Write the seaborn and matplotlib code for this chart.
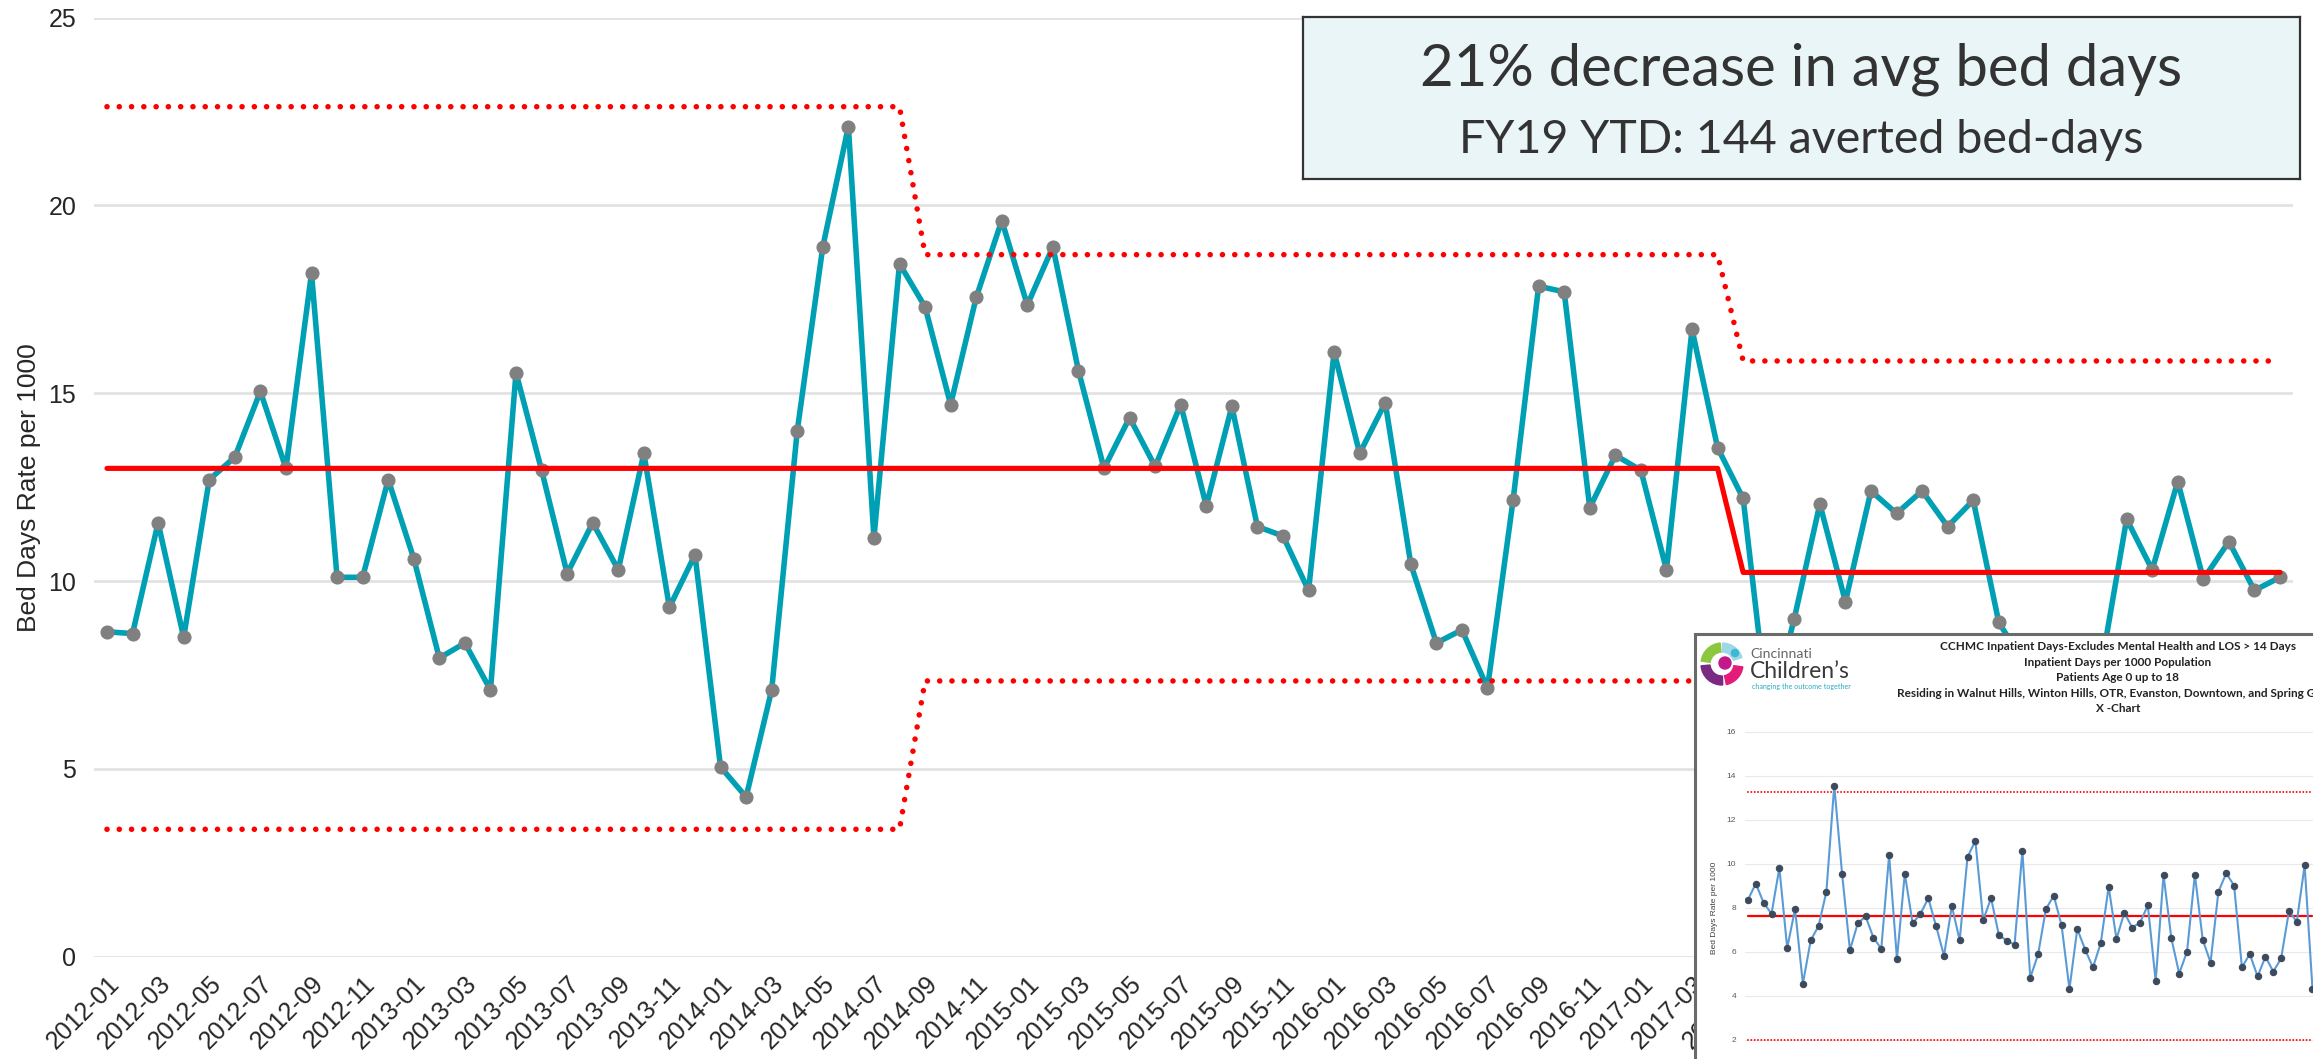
import pandas as pd
import matplotlib
matplotlib.use("Agg")
import matplotlib.pyplot as plt
from matplotlib.patches import Wedge, Circle
from matplotlib.transforms import IdentityTransform, ScaledTranslation
import seaborn as sns

W, H = 2313, 1059

# main X-chart: monthly bed days rate per 1000
months = pd.period_range("2012-01", "2019-02", freq="M").strftime("%Y-%m").tolist()
bed_days = [
    8.65, 8.6, 11.55, 8.5, 12.7, 13.3, 15.05, 13.0, 18.2, 10.1, 10.1, 12.7,
    10.6, 7.95, 8.35, 7.1, 15.55, 12.95, 10.2, 11.55, 10.3, 13.4, 9.3, 10.7,
    5.05, 4.25, 7.1, 14.0, 18.9, 22.1, 11.15, 18.45, 17.3, 14.7, 17.55, 19.6,
    17.35, 18.9, 15.6, 13.0, 14.35, 13.05, 14.7, 12.0, 14.65, 11.45, 11.2, 9.75,
    16.1, 13.4, 14.75, 10.45, 8.35, 8.7, 7.15, 12.15, 17.85, 17.7, 11.95, 13.35,
    12.95, 10.3, 16.7, 13.55, 12.2, 6.3, 9.0, 12.05, 9.45, 12.4, 11.8, 12.4,
    11.45, 12.15, 8.9, 7.8, 6.9, 7.4, 7.7, 11.65, 10.3, 12.65, 10.05, 11.05,
    9.75, 10.1,
]
center_line = [13.0] * 64 + [10.23] * 22
upper_limit = [22.63] * 32 + [18.69] * 32 + [15.86] * 22
lower_limit = [3.39] * 32 + [7.34] * 32 + [4.6] * 22

headline = "21% decrease in avg bed days"
subline = "FY19 YTD: 144 averted bed-days"

# pasted CCHMC chart (inset)
inset_rate = [
    8.38, 9.11, 8.23, 7.74, 9.82, 6.18, 7.95, 4.56, 6.53, 7.18,
    8.74, 13.56, 9.56, 6.09, 7.30, 7.62, 6.65, 6.15, 10.41, 5.68,
    9.56, 7.30, 7.74, 8.44, 7.17, 5.83, 8.09, 6.53, 10.32, 11.05,
    7.45, 8.45, 6.77, 6.52, 6.33, 10.59, 4.83, 5.89, 7.95, 8.56,
    7.21, 4.32, 7.05, 6.11, 5.30, 6.41, 8.97, 6.59, 7.79, 7.11,
    7.33, 8.12, 4.67, 9.50, 6.62, 5.02, 6.02, 9.52, 6.56, 5.52,
    8.74, 9.58, 9.02, 5.30, 5.91, 4.89, 5.79, 5.11, 5.71, 7.85,
    7.38, 9.94, 4.32,
]
inset_center = 7.63
inset_upper = 13.29
inset_lower = 2.0
inset_title = [
    "CCHMC Inpatient Days-Excludes Mental Health and LOS > 14 Days",
    "Inpatient Days per 1000 Population",
    "Patients Age 0 up to 18",
    "Residing in Walnut Hills, Winton Hills, OTR, Evanston, Downtown, and Spring Grove",
    "X -Chart",
]

sns.set_style("white")
plt.rcParams["font.family"] = ["Liberation Sans", "DejaVu Sans"]
narrow = ["Liberation Sans Narrow", "Liberation Sans"]


def rect(x0, y0, x1, y1):
    # pixel box (top-left origin) -> figure fraction
    return [x0 / W, 1 - y1 / H, (x1 - x0) / W, (y1 - y0) / H]


fig = plt.figure(figsize=(W / 100, H / 100), dpi=100)
renderer = fig.canvas.get_renderer()


def fit(txt, target_px):
    # scale font so the text spans target_px
    w = txt.get_window_extent(renderer).width
    txt.set_fontsize(txt.get_fontsize() * target_px / w)
    return txt.get_fontsize()


# ---- main chart
ax = fig.add_axes(rect(94.2, 17.7, 2292.8, 956.6))
df = pd.DataFrame({
    "idx": range(len(months)), "rate": bed_days,
    "cl": center_line, "ucl": upper_limit, "lcl": lower_limit,
})
sns.lineplot(data=df, x="idx", y="rate", ax=ax, color="#00A0B4", linewidth=4,
             marker="o", markersize=9.4, markerfacecolor="#808080",
             markeredgecolor="#808080", zorder=3)
sns.lineplot(data=df, x="idx", y="cl", ax=ax, color="#FF0000", linewidth=3.7, zorder=4)
for col in ["ucl", "lcl"]:
    sns.lineplot(data=df, x="idx", y=col, ax=ax, color="#FF0000", linewidth=4,
                 linestyle=(0, (0.01, 2.2)), dash_capstyle="round", zorder=4)

ax.set_xlim(-0.5, len(months) - 0.5)
ax.set_ylim(0, 25)
ax.set_yticks([0, 5, 10, 15, 20, 25])
ax.set_xticks(range(0, len(months), 2))
ax.set_xticklabels(months[::2], rotation=45, ha="right", va="top",
                   rotation_mode="anchor", fontsize=18, family=narrow)
ax.set_yticklabels([0, 5, 10, 15, 20, 25], fontsize=18, family=narrow)
shift = ScaledTranslation(0.05, 0, fig.dpi_scale_trans)
for lbl in ax.get_xticklabels():
    lbl.set_transform(lbl.get_transform() + shift)
ax.tick_params(axis="x", length=0, pad=11)
ax.tick_params(axis="y", length=0, pad=13)
ax.grid(axis="y", color="#E2E2E2", linewidth=2)
ax.set_axisbelow(True)
for s in ax.spines.values():
    s.set_visible(False)
ax.set_xlabel("")
ax.set_ylabel("Bed Days Rate per 1000", fontsize=19)
ax.yaxis.set_label_coords(-0.024, 0.5)

# ---- headline box
box = fig.add_axes(rect(1303, 17, 2300, 179))
box.set_facecolor("#EAF5F7")
box.set_xticks([])
box.set_yticks([])
for s in box.spines.values():
    s.set_color("#333333")
    s.set_linewidth(1.6)
t1 = box.text(0.5, (179 - 85) / 162, headline, ha="center", va="baseline",
              fontsize=43, color="#333333", family="Lato")
t2 = box.text(0.5, (179 - 153) / 162, subline, ha="center", va="baseline",
              fontsize=34, color="#333333", family="Lato")
fit(t1, 763)
fit(t2, 687)

# ---- pasted chart
panel = fig.add_axes(rect(1695, 634, 2500, 1200))
panel.set_facecolor("white")
panel.set_xticks([])
panel.set_yticks([])
for side, s in panel.spines.items():
    s.set_color("#6A6A6A")
    s.set_linewidth(2.2)

inner = fig.add_axes(rect(1745, 725.4, 2450, 1073))
inner.patch.set_alpha(0)
idf = pd.DataFrame({"idx": range(len(inset_rate)), "rate": inset_rate})
idf["cl"] = inset_center
idf["ucl"] = inset_upper
idf["lcl"] = inset_lower
sns.lineplot(data=idf, x="idx", y="rate", ax=inner, color="#5B9BD5", linewidth=1.5,
             marker="o", markersize=4.6, markerfacecolor="#3C4A5C",
             markeredgecolor="#3C4A5C", zorder=3)
sns.lineplot(data=idf, x="idx", y="cl", ax=inner, color="#FF0000", linewidth=1.6, zorder=2)
for col in ["ucl", "lcl"]:
    sns.lineplot(data=idf, x="idx", y=col, ax=inner, color="#FF0000", linewidth=1.4,
                 linestyle=(0, (0.01, 1.7)), dash_capstyle="round", zorder=2)
inner.set_xlim((1745 - 1748) / 7.84, (2450 - 1748) / 7.84)
inner.set_ylim(0.5, 16.3)
inner.set_yticks(range(2, 17, 2))
inner.set_yticklabels(range(2, 17, 2), fontsize=6, color="#595959")
inner.set_xticks([])
inner.tick_params(axis="y", length=0, pad=6.5)
inner.grid(axis="y", color="#E9E9E9", linewidth=0.8)
inner.set_axisbelow(True)
for s in inner.spines.values():
    s.set_visible(False)
inner.set_xlabel("")
inner.set_ylabel("Bed Days Rate per 1000", fontsize=6, color="#404040")
inner.yaxis.set_label_coords(-0.038, 0.475)

titles = []
for i, line in enumerate(inset_title):
    titles.append(fig.text(2118 / W, 1 - (647 + 15.4 * i) / H, line, ha="center",
                           va="center", fontsize=7, weight="bold", color="#222222",
                           family="Lato"))
size = fit(titles[0], 356)
for t in titles[1:]:
    t.set_fontsize(size)

# logo
px = IdentityTransform()
cx, cy = 1722, H - 664
for a1, a2, c in [(95, 172, "#8DC63F"), (18, 88, "#9ED8E6"), (185, 272, "#7A2A83"), (282, 352, "#E31C79")]:
    fig.add_artist(Wedge((cx, cy), 21, a1, a2, width=9, color=c, transform=px))
fig.add_artist(Circle((cx + 3, cy + 1), 6, color="#C2188B", transform=px))
fig.add_artist(Circle((cx + 13, cy + 11), 3.6, color="#3DB9D3", transform=px))
c1 = fig.text(1750 / W, 1 - 654 / H, "Cincinnati", ha="left", va="center",
              fontsize=9, color="#666666", family="Lato")
c2 = fig.text(1750 / W, 1 - 671 / H, "Children\u2019s", ha="left", va="center",
              fontsize=14, color="#3A3A3A", family="Lato")
c3 = fig.text(1752 / W, 1 - 686 / H, "changing the outcome together", ha="left",
              va="center", fontsize=5, color="#29ABC4", family="Lato")
fit(c1, 62)
fit(c2, 100)
fit(c3, 100)

fig.savefig("out.png", dpi=100)
